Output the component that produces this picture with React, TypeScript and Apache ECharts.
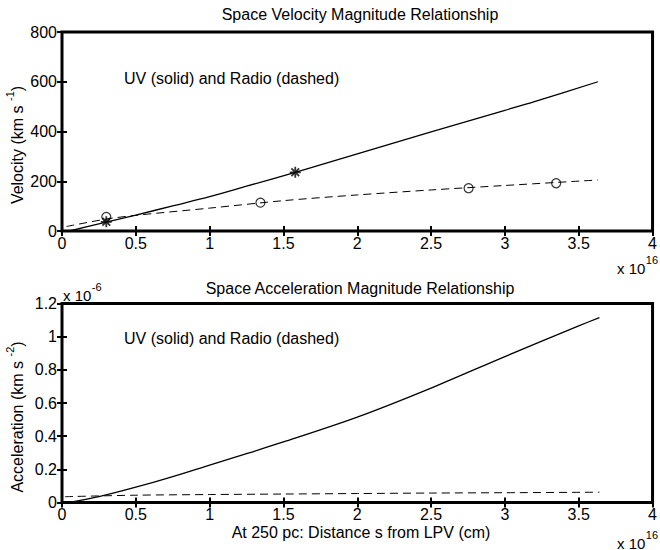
import React, { useEffect, useRef } from "react";
import * as echarts from "echarts";

const FONT = '"Liberation Sans", Arial, Helvetica, sans-serif';
const FS = 16;
const SUP_FS = 11;

// Distance from the LPV, in units of 10^16 cm
const uvVelX = [0.05, 0.3, 0.5, 0.75, 1.0, 1.25, 1.58, 2.0, 2.5, 3.0, 3.2, 3.63];
// UV space velocity (km/s)
const uvVel = [0, 36, 64, 101, 138, 180, 236, 310, 398, 485, 520, 600];
const radioVelX = [0.03, 0.3, 0.5, 1.0, 1.5, 2.0, 2.5, 3.0, 3.63];
// Radio space velocity (km/s)
const radioVel = [18, 48, 63, 92, 122, 145, 165, 183, 205];

// Measured points: UV (asterisks) and radio (circles)
const uvPtsX = [0.3, 1.58];
const uvPts = [37, 236];
const radioPtsX = [0.3, 1.344, 2.754, 3.347];
const radioPts = [57, 114, 172, 192];

// Acceleration, in units of 10^-6 km s^-2
const uvAccX = [0.05, 0.25, 0.5, 0.75, 1.0, 1.25, 1.5, 2.0, 2.5, 3.0, 3.5, 3.64];
const uvAcc = [0, 0.035, 0.092, 0.156, 0.226, 0.295, 0.365, 0.515, 0.69, 0.88, 1.065, 1.115];
const radioAccX = [0.02, 0.5, 1.0, 1.5, 2.0, 2.5, 3.0, 3.64];
const radioAcc = [0.035, 0.044, 0.048, 0.051, 0.054, 0.057, 0.059, 0.062];

const pairs = (xs: number[], ys: number[]) => xs.map((x, i) => [x, ys[i]]);

const STAR = "path://M5,0L5,10M0,5L10,5M1.5,1.5L8.5,8.5M8.5,1.5L1.5,8.5";

let measureCtx: CanvasRenderingContext2D | null = null;
function textWidth(str: string, size: number) {
  if (!measureCtx) measureCtx = document.createElement("canvas").getContext("2d");
  if (!measureCtx) return str.length * size * 0.55;
  measureCtx.font = `${size}px ${FONT}`;
  return measureCtx.measureText(str).width;
}

const tick = { show: true, inside: true, length: 5, lineStyle: { color: "#000", width: 2 } };

function xAxisPair(gridIndex: number) {
  const base = {
    type: "value" as const,
    gridIndex,
    min: 0,
    max: 4,
    interval: 0.5,
    axisLine: { show: false },
    splitLine: { show: false },
    axisTick: tick,
  };
  return [
    {
      ...base,
      position: "bottom",
      axisLabel: { color: "#000", fontSize: FS, fontFamily: FONT, margin: 4 },
    },
    { ...base, position: "top", axisLabel: { show: false } },
  ];
}

function yAxisPair(gridIndex: number, max: number, interval: number) {
  const base = {
    type: "value" as const,
    gridIndex,
    min: 0,
    max,
    interval,
    axisLine: { show: false },
    splitLine: { show: false },
    axisTick: tick,
  };
  return [
    {
      ...base,
      position: "left",
      axisLabel: { color: "#000", fontSize: FS, fontFamily: FONT, margin: 5 },
    },
    { ...base, position: "right", axisLabel: { show: false } },
  ];
}

function text(x: number, y: number, str: string, extra: Record<string, unknown> = {}) {
  return {
    type: "text",
    x,
    y,
    style: {
      text: str,
      fontSize: FS,
      fontFamily: FONT,
      fill: "#000",
      align: "center",
      verticalAlign: "middle",
      ...extra,
    },
  };
}

// "x 10" followed by a raised exponent, left edge at x, base centred on y
function powerTen(x: number, y: number, exp: string) {
  const base = "x 10";
  const w = textWidth(base, 15);
  return [
    text(x, y, base, { align: "left", fontSize: 15 }),
    text(x + w + 0.5, y - 8, exp, { align: "left", fontSize: SUP_FS }),
  ];
}

// vertical axis title with a superscript unit exponent, centred on (x, y)
function unitLabel(x: number, y: number, head: string, exp: string, tail: string) {
  const w1 = textWidth(head, FS);
  const w2 = textWidth(exp, SUP_FS);
  const w3 = textWidth(tail, FS);
  const x0 = -(w1 + w2 + w3) / 2;
  return {
    type: "group",
    x,
    y,
    rotation: Math.PI / 2,
    children: [
      text(x0, 0, head, { align: "left" }),
      text(x0 + w1, -7, exp, { align: "left", fontSize: SUP_FS }),
      text(x0 + w1 + w2, 0, tail, { align: "left" }),
    ],
  };
}

const gridBox = {
  left: 62,
  width: 596,
  height: 199,
  show: true,
  borderColor: "#000",
  borderWidth: 3,
  backgroundColor: "transparent",
  containLabel: false,
};

function buildOption() {
  return {
    animation: false,
    backgroundColor: "#fff",
    grid: [
      { ...gridBox, top: 32 },
      { ...gridBox, top: 303.5 },
    ],
    xAxis: [...xAxisPair(0), ...xAxisPair(1)],
    yAxis: [...yAxisPair(0, 800, 200), ...yAxisPair(1, 1.2, 0.2)],
    series: [
      {
        type: "line",
        xAxisIndex: 0,
        yAxisIndex: 0,
        data: pairs(uvVelX, uvVel),
        showSymbol: false,
        smooth: 0.3,
        lineStyle: { color: "#000", width: 1.3 },
      },
      {
        type: "line",
        xAxisIndex: 0,
        yAxisIndex: 0,
        data: pairs(radioVelX, radioVel),
        showSymbol: false,
        smooth: 0.3,
        lineStyle: { color: "#000", width: 1, type: [8, 5] },
      },
      {
        type: "scatter",
        xAxisIndex: 0,
        yAxisIndex: 0,
        data: pairs(uvPtsX, uvPts),
        symbol: STAR,
        symbolSize: 11,
        itemStyle: { color: "none", borderColor: "#000", borderWidth: 1.8 },
      },
      {
        type: "scatter",
        xAxisIndex: 0,
        yAxisIndex: 0,
        data: pairs(radioPtsX, radioPts),
        symbol: "circle",
        symbolSize: 9,
        itemStyle: { color: "transparent", borderColor: "#000", borderWidth: 1.2 },
      },
      {
        type: "line",
        xAxisIndex: 2,
        yAxisIndex: 2,
        data: pairs(uvAccX, uvAcc),
        showSymbol: false,
        smooth: 0.3,
        lineStyle: { color: "#000", width: 1.3 },
      },
      {
        type: "line",
        xAxisIndex: 2,
        yAxisIndex: 2,
        data: pairs(radioAccX, radioAcc),
        showSymbol: false,
        smooth: 0.3,
        lineStyle: { color: "#000", width: 1, type: [8, 5] },
      },
    ],
    graphic: [
      text(360, 14.5, "Space Velocity Magnitude Relationship"),
      text(360, 288, "Space Acceleration Magnitude Relationship"),
      text(124, 78, "UV (solid) and Radio (dashed)", { align: "left" }),
      text(124, 338, "UV (solid) and Radio (dashed)", { align: "left" }),
      text(361, 532, "At 250 pc: Distance s from LPV (cm)"),
      ...powerTen(617, 268, "16"),
      ...powerTen(617, 543, "16"),
      ...powerTen(63, 295, "-6"),
      unitLabel(17, 145, "Velocity (km s ", "-1", ")"),
      unitLabel(17, 417, "Acceleration (km s ", "-2", ")"),
    ],
  };
}

export default function App() {
  const ref = useRef<HTMLDivElement>(null);
  useEffect(() => {
    const chart = echarts.init(ref.current!, null, { renderer: "svg" });
    chart.setOption(buildOption() as any);
    return () => chart.dispose();
  }, []);
  return (
    <div
      ref={ref}
      style={{ position: "fixed", left: 0, top: 0, width: 660, height: 550, background: "#fff" }}
    />
  );
}
